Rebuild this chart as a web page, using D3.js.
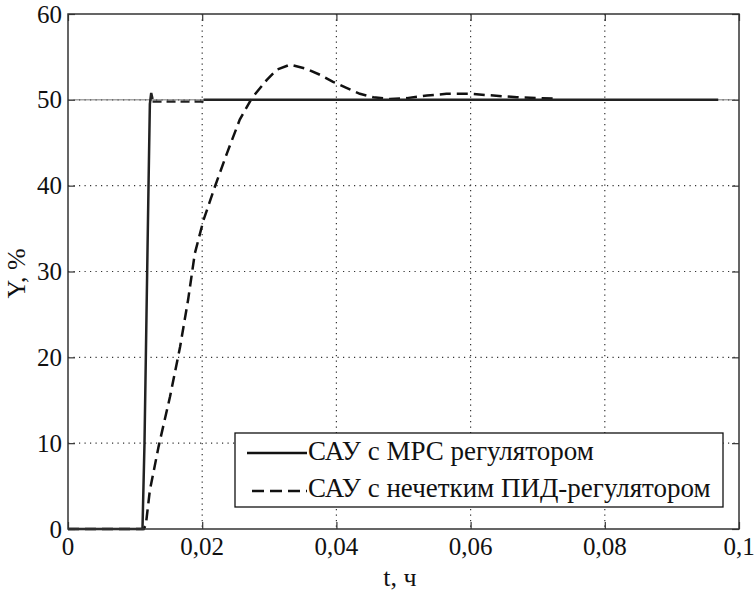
<!DOCTYPE html>
<html><head><meta charset="utf-8">
<script src="https://cdn.jsdelivr.net/npm/d3@7"></script>
<style>body{margin:0;background:#fff;} svg{display:block;}</style>
</head><body>
<svg id="chart" width="754" height="592"></svg>
<script>
// ---- data ----
const xTicks = [0, 0.02, 0.04, 0.06, 0.08, 0.1];
const xTickLabels = ["0", "0,02", "0,04", "0,06", "0,08", "0,1"];
const yTicks = [0, 10, 20, 30, 40, 50, 60];
const yTickLabels = ["0", "10", "20", "30", "40", "50", "60"];
const setpoint = [[0, 50], [0.1, 50]];
// САУ с МРС регулятором (solid); null marks a gap
const mpcSeries = [[0, 0], [0.0111, 0], [0.0114, 10], [0.0117, 25], [0.012, 40], [0.0122, 49.5],
  [0.0124, 50.8], [0.0126, 50.1], null, [0.0202, 50], [0.04, 50], [0.06, 50], [0.08, 50], [0.0969, 50]];
const mpcDashedPart = [[0.0126, 49.8], [0.0202, 49.8]];
// САУ с нечетким ПИД-регулятором (dashed)
const pidSeries = [[0, 0], [0.0113, 0], [0.0116, 0.5], [0.0122, 4.5], [0.0135, 9.6], [0.0152, 15.4],
  [0.0167, 21.2], [0.0179, 26.7], [0.0189, 32.1], [0.0202, 36.0], [0.0219, 39.9], [0.0237, 43.8],
  [0.0256, 47.7], [0.0274, 50.2], [0.0296, 52.3], [0.0311, 53.5], [0.0331, 54.1], [0.0356, 53.6],
  [0.0376, 52.9], [0.0395, 52.1], [0.0415, 51.4], [0.0435, 50.7], [0.0455, 50.3], [0.048, 50.1],
  [0.0505, 50.2], [0.0535, 50.5], [0.0564, 50.7], [0.0599, 50.7], [0.0634, 50.5], [0.0669, 50.3],
  [0.0703, 50.2], [0.0725, 50.15]];
const legendLabels = ["САУ с МРС регулятором", "САУ с нечетким ПИД-регулятором"];
const xLabel = "t, ч";
const yLabel = "Y, %";

// ---- layout ----
const svg = d3.select("#chart");
const L = 68, R = 739, T = 14, B = 529;
const x = d3.scaleLinear().domain([0, 0.1]).range([L, R]);
const y = d3.scaleLinear().domain([0, 60]).range([B, T]);
const FONT = '"Liberation Serif", "Times New Roman", serif';

// grid
const grid = svg.append("g");
xTicks.slice(1, -1).forEach(v => grid.append("line").attr("x1", x(v)).attr("x2", x(v)).attr("y1", T).attr("y2", B));
yTicks.slice(1, -1).forEach(v => grid.append("line").attr("y1", y(v)).attr("y2", y(v)).attr("x1", L).attr("x2", R));
grid.selectAll("line").attr("stroke", "#333").attr("stroke-width", 1.2).attr("stroke-dasharray", "1.2,4.3");

// ticks (inward on all four sides) via axes
const tl = 7;
const axB = svg.append("g").attr("transform", `translate(0,${B})`)
  .call(d3.axisTop(x).tickValues(xTicks).tickSize(tl).tickFormat(""));
const axT = svg.append("g").attr("transform", `translate(0,${T})`)
  .call(d3.axisBottom(x).tickValues(xTicks).tickSize(tl).tickFormat(""));
const axL = svg.append("g").attr("transform", `translate(${L},0)`)
  .call(d3.axisRight(y).tickValues(yTicks).tickSize(tl).tickFormat(""));
const axR = svg.append("g").attr("transform", `translate(${R},0)`)
  .call(d3.axisLeft(y).tickValues(yTicks).tickSize(tl).tickFormat(""));
[axB, axT, axL, axR].forEach(a => { a.select(".domain").remove(); a.selectAll("line").attr("stroke", "#333").attr("stroke-width", 1.2); });

// tick labels
svg.append("g").selectAll("text").data(xTicks).join("text")
  .attr("x", d => x(d)).attr("y", B + 26).attr("text-anchor", "middle")
  .style("font-family", FONT).style("font-size", "25px").attr("fill", "#111")
  .text((d, i) => xTickLabels[i]);
svg.append("g").selectAll("text").data(yTicks).join("text")
  .attr("x", L - 6).attr("y", d => y(d) + 8.5).attr("text-anchor", "end")
  .style("font-family", FONT).style("font-size", "25px").attr("fill", "#111")
  .text((d, i) => yTickLabels[i]);

// axis labels
svg.append("text").attr("x", 400).attr("y", 586).attr("text-anchor", "middle")
  .style("font-family", FONT).style("font-size", "26px").attr("fill", "#111").text(xLabel);
svg.append("text").attr("transform", `translate(25,${(T + B) / 2 + 2}) rotate(-90)`).attr("text-anchor", "middle")
  .style("font-family", FONT).style("font-size", "26px").attr("fill", "#111").text(yLabel);

// lines
const line = d3.line().defined(d => d !== null).x(d => x(d[0])).y(d => y(d[1]));
svg.append("path").attr("d", line(setpoint)).attr("fill", "none").attr("stroke", "#777").attr("stroke-width", 1);
svg.append("path").attr("d", line(mpcDashedPart)).attr("fill", "none").attr("stroke", "#222").attr("stroke-width", 2.2).attr("stroke-dasharray", "9,5");
svg.append("path").attr("d", line(pidSeries)).attr("fill", "none").attr("stroke", "#111").attr("stroke-width", 2.5).attr("stroke-dasharray", "11,6");
svg.append("path").attr("d", line(mpcSeries)).attr("fill", "none").attr("stroke", "#222").attr("stroke-width", 2.5);

// border
svg.append("rect").attr("x", L).attr("y", T).attr("width", R - L).attr("height", B - T)
  .attr("fill", "none").attr("stroke", "#333").attr("stroke-width", 1.5);

// legend
const lg = svg.append("g");
lg.append("rect").attr("x", 235).attr("y", 433).attr("width", 488).attr("height", 74)
  .attr("fill", "#fff").attr("stroke", "#111").attr("stroke-width", 1.3);
const rows = [{ y: 453, base: 460, dash: null }, { y: 491, base: 497, dash: "12,6" }];
rows.forEach((r, i) => {
  lg.append("line").attr("x1", i === 0 ? 247 : 252).attr("x2", 307).attr("y1", r.y).attr("y2", r.y)
    .attr("stroke", "#111").attr("stroke-width", 2.5).attr("stroke-dasharray", r.dash);
  lg.append("text").attr("x", 308).attr("y", r.base)
    .style("font-family", FONT).style("font-size", "27px")
    .attr("fill", "#111").text(legendLabels[i]);
});
</script>
</body></html>
